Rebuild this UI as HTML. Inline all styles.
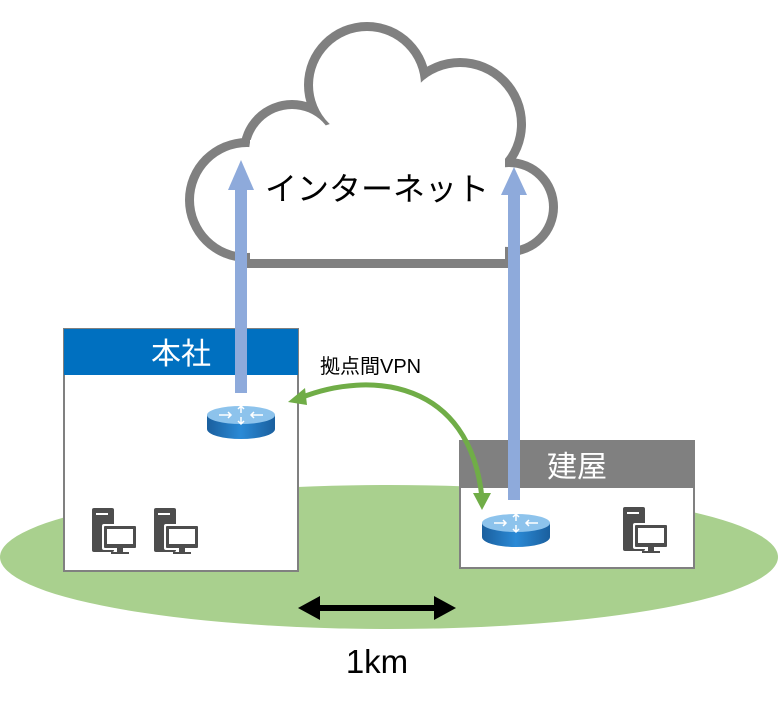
<!DOCTYPE html>
<html><head><meta charset="utf-8"><style>
body{margin:0;background:#fff}
svg{display:block}
text{font-family:"Liberation Sans","Noto Sans CJK JP",sans-serif}
</style></head><body>
<svg width="778" height="707" viewBox="0 0 778 707" xmlns="http://www.w3.org/2000/svg">
<defs>
<linearGradient id="rg" x1="0" x2="1" y1="0" y2="0">
<stop offset="0" stop-color="#1a5f9e"/><stop offset="0.5" stop-color="#2b8ad6"/><stop offset="1" stop-color="#1a5f9e"/>
</linearGradient>
<g id="router">
<path d="M0 10 V24 A34 10 0 0 0 68 24 V10 Z" fill="url(#rg)"/>
<ellipse cx="34" cy="10" rx="34" ry="9" fill="#8dc3ec"/>
<g stroke="#fff" stroke-width="1.5" fill="none">
<path d="M34 2 V8 M31 4 L34 1 L37 4 M34 12 V18 M31 16 L34 19 L37 16 M12 10 H24 M21 7 L24 10 L21 13 M56 10 H44 M47 7 L44 10 L47 13"/>
</g>
</g>
<g id="pc">
<rect x="0" y="0" width="22" height="44" rx="2" fill="#4d4d4d"/>
<rect x="4" y="5" width="12" height="2" fill="#fff"/>
<rect x="10" y="16" width="36" height="26" rx="2" fill="#fff"/>
<rect x="12" y="18" width="32" height="22" rx="1" fill="#4d4d4d"/>
<rect x="15" y="21" width="26" height="15" fill="#fff"/>
<rect x="25" y="40" width="6" height="5" fill="#4d4d4d"/>
<rect x="19" y="44" width="18" height="2" fill="#4d4d4d"/>
</g>
</defs>
<!-- cloud -->
<g fill="#808080">
<circle cx="247" cy="200" r="62"/>
<circle cx="292" cy="152" r="52"/>
<circle cx="367" cy="85" r="63"/>
<circle cx="460" cy="124" r="66"/>
<circle cx="509" cy="207" r="49"/>
<rect x="240" y="200" width="270" height="68"/>
</g>
<g fill="#fff">
<circle cx="247" cy="200" r="53"/>
<circle cx="292" cy="152" r="43"/>
<circle cx="367" cy="85" r="54"/>
<circle cx="460" cy="124" r="57"/>
<circle cx="509" cy="207" r="40"/>
<rect x="250" y="140" width="255" height="119"/>
<polygon points="258,150 318,128 425,92 505,158 505,259 250,259"/>
</g>
<text x="377" y="200" font-size="32" text-anchor="middle" fill="#000">インターネット</text>
<!-- ground -->
<ellipse cx="389" cy="557" rx="389" ry="72" fill="#a9d08e"/>
<!-- HQ -->
<rect x="64" y="329" width="234" height="242" fill="#fff" stroke="#808080" stroke-width="2"/>
<rect x="64" y="329" width="234" height="46" fill="#0070c0"/>
<text x="181" y="364" font-size="30" fill="#fff" text-anchor="middle">本社</text>
<use href="#router" x="207" y="405"/>
<use href="#pc" x="92" y="508"/>
<use href="#pc" x="154" y="508"/>
<!-- branch -->
<rect x="460" y="441" width="234" height="127" fill="#fff" stroke="#808080" stroke-width="2"/>
<rect x="460" y="441" width="234" height="47" fill="#808080"/>
<text x="577" y="477" font-size="30" fill="#fff" text-anchor="middle">建屋</text>
<use href="#router" x="482" y="513"/>
<use href="#pc" x="623" y="507"/>
<!-- blue arrows -->
<g fill="#8eaadb">
<rect x="235" y="188" width="12" height="205"/>
<polygon points="228,190 254,190 241,160"/>
<rect x="508" y="193" width="12" height="307"/>
<polygon points="501,195 527,195 514,167"/>
</g>
<!-- VPN arc -->
<path d="M300 398 C 370 370, 470 380, 482 498" fill="none" stroke="#70ad47" stroke-width="5"/>
<polygon points="288,402 305,388 307,405" fill="#70ad47"/>
<polygon points="473,493 491,493 482,510" fill="#70ad47"/>
<text x="320" y="373" font-size="20" fill="#000">拠点間VPN</text>
<!-- distance -->
<line x1="312" y1="608" x2="442" y2="608" stroke="#000" stroke-width="6"/>
<polygon points="298,608 320,596 320,620" fill="#000"/>
<polygon points="456,608 434,596 434,620" fill="#000"/>
<text x="377" y="673" font-size="33" text-anchor="middle" fill="#000">1km</text>
</svg>
</body></html>
